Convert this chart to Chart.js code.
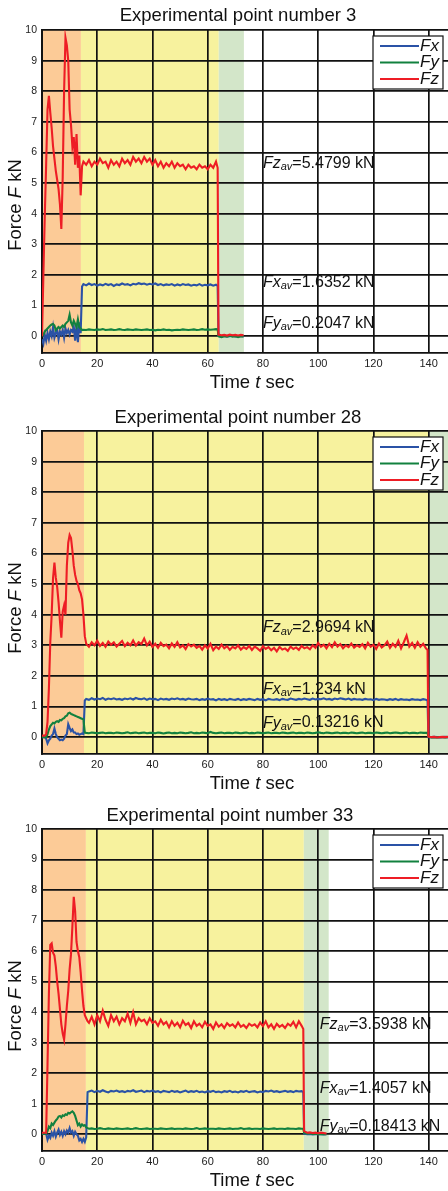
<!DOCTYPE html>
<html>
<head>
<meta charset="utf-8">
<script src="https://cdn.jsdelivr.net/npm/chart.js@4"></script>
<style>
  body { margin: 0; background: #fff; }
  canvas { display: block; }
</style>
</head>
<body>
<canvas id="c1" width="448" height="398"></canvas>
<canvas id="c2" width="448" height="398"></canvas>
<canvas id="c3" width="448" height="395"></canvas>
<script>
// axis ticks
const xTicks = [0, 20, 40, 60, 80, 100, 120, 140];
const yTicks = [0, 1, 2, 3, 4, 5, 6, 7, 8, 9, 10];
const seriesNames = ['Fx', 'Fy', 'Fz'];

// ---- Experimental point number 3 ----
const time1 = [0,0.5,1,1.5,2,2.5,3,3.5,4,4.5,5,5.5,6,6.5,7,7.5,8,8.5,9,9.5,10,10.5,11,11.5,12,12.5,13,13.5,14,
  14.5,15,16,17,18,19,20,21,22,23,24,25,26,27,28,29,30,31,32,33,34,35,36,37,38,39,40,41,42,43,44,45,46,47,48,49,50,
  51,52,53,54,55,56,57,58,59,60,61,62,63,63.6,
  63.9,65,66,67,68,69,70,71,72,73];
const fx1 = [-0.1,-0.25,0.05,-0.15,0.1,-0.1,0.15,0.0,0.3,-0.05,0.1,0.2,-0.1,0.15,0.05,0.2,-0.05,0.25,0.1,0.2,0.05,0.2,0.15,0.3,-0.15,0.35,-0.2,0.45,0.1,
  1.62,1.7,1.66,1.72,1.67,1.7,1.65,1.69,1.66,1.71,
  1.67,1.7,1.64,1.69,1.67,1.72,1.68,1.7,1.66,1.71,
  1.69,1.73,1.7,1.72,1.68,1.71,1.69,1.72,1.67,1.7,
  1.66,1.69,1.67,1.7,1.65,1.69,1.66,1.7,1.67,1.69,
  1.65,1.68,1.66,1.7,1.65,1.68,1.66,1.69,1.65,1.68,1.64,
  0.0,-0.02,0.01,-0.01,0.0,0.02,-0.01,0.0,0.01,-0.01];
const fy1 = [0,0.05,0.15,0.2,0.25,0.3,0.35,0.38,0.4,0.35,0.2,0.25,0.3,0.25,0.3,0.35,0.3,0.4,0.45,0.5,0.7,0.45,0.35,0.5,0.4,0.3,0.55,0.3,0.25,
  0.2,0.21,0.2,0.22,0.21,0.2,0.22,0.21,0.23,0.2,
  0.21,0.22,0.2,0.21,0.23,0.21,0.2,0.22,0.21,0.2,
  0.22,0.21,0.2,0.21,0.22,0.2,0.21,0.19,0.21,0.2,
  0.22,0.2,0.21,0.19,0.2,0.21,0.2,0.22,0.21,0.2,
  0.21,0.22,0.2,0.21,0.23,0.21,0.22,0.21,0.22,0.23,0.22,
  0.0,-0.03,0.0,-0.02,0.01,-0.02,0.0,-0.03,0.0,-0.01];
const fz1 = [0,2.0,3.9,5.6,7.4,7.85,7.3,6.8,6.2,5.8,5.4,5.1,4.8,4.3,3.5,5.2,8.0,9.75,9.5,9.0,7.4,6.9,6.2,6.5,5.6,6.6,5.5,5.9,4.6,
  5.55,5.7,5.6,5.75,5.55,5.7,5.6,5.8,5.65,5.7,
  5.5,5.75,5.6,5.7,5.55,5.8,5.65,5.75,5.6,5.85,
  5.7,5.8,5.65,5.85,5.7,5.8,5.6,5.75,5.55,5.7,
  5.5,5.65,5.55,5.7,5.5,5.65,5.55,5.6,5.45,5.6,
  5.5,5.55,5.45,5.6,5.5,5.55,5.45,5.6,5.5,5.7,5.5,
  0.05,0.03,0.04,0.02,0.05,0.03,0.04,0.02,0.04,0.03];
const phases1 = [0, 14.1, 64.0, 73.1];
const avg1 = ['1.6352', '0.2047', '5.4799'];

// ---- Experimental point number 28 ----
const time2 = [0,0.5,1,1.5,2,2.5,3,3.5,4,4.5,5,5.5,6,6.5,7,7.5,8,8.5,9,9.5,10,10.5,11,11.5,12,12.5,13,13.5,14,14.5,15,
  15.5,16,17,18,19,20,21,22,23,24,25,26,27,28,29,30,31,32,33,34,35,36,37,38,39,40,41,42,43,44,45,
  46,47,48,49,50,51,52,53,54,55,56,57,58,59,60,61,62,63,64,65,66,67,68,69,70,71,72,73,74,75,
  76,77,78,79,80,81,82,83,84,85,86,87,88,89,90,91,92,93,94,95,96,97,98,99,100,101,102,103,104,105,
  106,107,108,109,110,111,112,113,114,115,116,117,118,119,120,121,122,123,124,125,126,127,128,129,130,131,132,133,134,135,
  136,137,138,139,139.6,
  139.9,141,142,143,144,145,146,147];
const fx2 = [0.0,0.0,0.0,-0.05,-0.2,-0.1,-0.05,0.05,0.1,0.28,0.1,0.0,-0.05,-0.1,-0.08,-0.1,-0.05,0.05,0.1,0.42,0.3,0.2,0.25,0.15,0.15,0.1,0.12,0.08,0.1,0.12,0.1,
  1.2,
  1.25,1.22,1.27,1.23,1.26,1.24,1.28,1.22,1.26,1.24,
  1.27,1.23,1.25,1.22,1.26,1.24,1.27,1.23,1.28,1.25,
  1.24,1.27,1.22,1.26,1.24,1.25,1.21,1.26,1.23,1.25,
  1.22,1.26,1.24,1.27,1.23,1.25,1.22,1.26,1.24,1.23,
  1.25,1.21,1.24,1.22,1.26,1.23,1.24,1.2,1.25,1.22,
  1.24,1.21,1.25,1.23,1.22,1.25,1.21,1.24,1.22,1.25,
  1.23,1.21,1.25,1.22,1.24,1.2,1.25,1.23,1.22,1.24,
  1.21,1.25,1.23,1.22,1.26,1.24,1.22,1.25,1.23,1.26,
  1.24,1.22,1.26,1.23,1.25,1.24,1.27,1.23,1.25,1.22,
  1.26,1.24,1.27,1.25,1.23,1.26,1.22,1.25,1.23,1.24,
  1.22,1.25,1.23,1.24,1.21,1.25,1.22,1.24,1.23,1.21,
  1.24,1.22,1.25,1.21,1.24,1.22,1.23,1.21,1.24,1.22,
  1.23,1.21,1.24,1.22,1.2,
  0.0,0.0,0.01,0.0,-0.01,0.0,0.01,0.0];
const fy2 = [0,0,0,0.0,0.1,0.25,0.36,0.42,0.47,0.45,0.5,0.52,0.5,0.56,0.55,0.6,0.62,0.68,0.7,0.78,0.8,0.76,0.74,0.72,0.7,0.68,0.66,0.64,0.62,0.6,0.58,
  0.15,
  0.14,0.13,0.15,0.14,0.13,0.14,0.15,0.13,0.14,0.14,
  0.13,0.15,0.14,0.13,0.14,0.16,0.13,0.14,0.15,0.13,
  0.14,0.15,0.13,0.14,0.14,0.13,0.15,0.14,0.12,0.14,
  0.15,0.13,0.14,0.13,0.15,0.14,0.13,0.14,0.16,0.13,
  0.14,0.13,0.15,0.14,0.13,0.17,0.14,0.13,0.14,0.15,
  0.13,0.14,0.14,0.13,0.15,0.14,0.13,0.14,0.15,0.13,
  0.14,0.13,0.15,0.14,0.13,0.14,0.15,0.13,0.14,0.14,
  0.13,0.15,0.14,0.13,0.14,0.15,0.13,0.14,0.14,0.13,
  0.15,0.14,0.13,0.14,0.16,0.14,0.13,0.15,0.14,0.13,
  0.14,0.15,0.13,0.14,0.14,0.13,0.15,0.14,0.13,0.14,
  0.15,0.13,0.14,0.14,0.13,0.15,0.14,0.13,0.14,0.15,
  0.13,0.14,0.15,0.14,0.13,0.14,0.15,0.13,0.14,0.14,
  0.13,0.15,0.14,0.14,0.14,
  0.01,-0.01,0.0,-0.01,0.0,0.0,-0.01,0.0];
const fz2 = [0.05,0.05,0.05,0.1,0.5,1.6,3.1,4.0,5.2,5.7,5.2,4.9,4.4,3.8,3.25,4.1,4.3,4.0,5.6,6.35,6.6,6.5,6.1,5.6,5.3,5.1,5.0,4.8,4.7,4.5,4.0,
  3.3,
  3.05,2.95,3.1,3.0,3.15,2.98,3.08,2.95,3.12,3.02,
  3.1,2.96,3.05,3.14,2.97,3.08,3.0,3.16,2.99,3.1,
  3.04,3.22,3.0,3.12,2.95,3.05,2.92,3.08,2.97,3.02,
  2.9,3.06,2.95,3.1,2.93,3.0,2.88,3.04,2.96,3.02,
  2.92,2.98,2.86,3.0,2.9,3.05,2.84,2.96,2.88,3.02,
  2.9,2.97,2.85,2.95,2.9,3.0,2.86,2.94,2.88,2.98,
  2.85,2.96,2.9,2.82,2.97,2.88,2.94,2.84,2.92,2.8,
  2.95,2.86,2.9,2.82,2.96,2.88,2.93,2.85,2.98,2.9,
  2.94,2.87,3.0,2.92,3.08,2.95,3.02,2.9,3.05,2.94,
  3.1,2.96,3.04,2.9,3.0,2.94,3.06,2.92,3.0,2.95,
  3.04,2.9,3.08,2.95,3.02,2.88,3.06,2.93,3.0,3.12,
  2.92,3.05,2.95,3.15,2.9,3.1,3.32,2.96,3.08,2.92,
  3.1,2.95,3.05,2.9,2.85,
  0.02,0.0,0.01,-0.01,0.0,0.01,0.0,0.01];
const phases2 = [0, 15.2, 140.0, 147];
const avg2 = ['1.234', '0.13216', '2.9694'];

// ---- Experimental point number 33 ----
const time3 = [0,0.5,1,1.5,2,2.5,3,3.5,4,4.5,5,5.5,6,6.5,7,7.5,8,8.5,9,9.5,10,10.5,11,11.5,12,12.5,13,13.5,14,14.5,15,15.5,16,
  16.5,17,18,19,20,21,22,23,24,25,26,27,28,29,30,31,32,33,34,35,36,37,38,39,40,41,42,43,44,45,46,
  47,48,49,50,51,52,53,54,55,56,57,58,59,60,61,62,63,64,65,66,67,68,69,70,71,72,73,74,75,76,
  77,78,79,80,81,82,83,84,85,86,87,88,89,90,91,92,93,94,94.6,
  94.9,96,97,98,99,100,101,102,103];
const fx3 = [0.02,0.02,0.02,0.02,-0.18,-0.05,-0.12,0.05,-0.05,0.1,-0.08,0.05,0.15,-0.02,0.08,-0.05,0.1,0.0,0.12,0.05,0.2,0.05,0.1,-0.05,0.08,0.0,-0.05,-0.2,-0.15,-0.25,-0.15,-0.25,-0.1,
  1.38,
  1.4,1.43,1.38,1.42,1.39,1.44,1.4,1.37,1.42,1.4,
  1.43,1.39,1.41,1.38,1.42,1.4,1.44,1.39,1.41,1.43,
  1.38,1.42,1.4,1.43,1.39,1.41,1.37,1.42,1.4,1.38,
  1.42,1.39,1.41,1.37,1.4,1.43,1.38,1.41,1.39,1.42,
  1.38,1.4,1.37,1.41,1.39,1.42,1.38,1.4,1.37,1.41,
  1.39,1.42,1.38,1.4,1.37,1.41,1.39,1.42,1.38,1.4,
  1.41,1.37,1.4,1.38,1.42,1.4,1.43,1.39,1.41,1.38,
  1.4,1.42,1.39,1.41,1.38,1.42,1.4,1.41,1.38,
  0.02,0.0,0.01,-0.01,0.0,0.01,0.0,-0.01,0.0];
const fy3 = [0.02,0.02,0.02,0.02,0.1,0.25,0.2,0.35,0.3,0.38,0.45,0.5,0.58,0.6,0.55,0.62,0.6,0.65,0.63,0.7,0.68,0.72,0.75,0.7,0.6,0.45,0.3,0.35,0.25,0.32,0.28,0.3,0.22,
  0.2,
  0.18,0.19,0.17,0.18,0.2,0.18,0.17,0.19,0.18,0.17,
  0.19,0.18,0.17,0.18,0.19,0.17,0.18,0.2,0.18,0.17,
  0.18,0.19,0.17,0.18,0.18,0.17,0.19,0.18,0.17,0.18,
  0.19,0.17,0.18,0.18,0.17,0.19,0.18,0.17,0.18,0.2,
  0.17,0.18,0.19,0.17,0.18,0.18,0.17,0.19,0.18,0.17,
  0.18,0.19,0.17,0.18,0.18,0.2,0.17,0.18,0.19,0.17,
  0.18,0.18,0.17,0.19,0.18,0.17,0.18,0.19,0.17,0.18,
  0.18,0.17,0.19,0.18,0.18,0.17,0.19,0.18,0.18,
  0.05,0.02,0.03,0.01,0.02,0.0,0.01,0.0,0.0];
const fz3 = [0.05,0.05,0.05,0.05,2.3,4.6,6.2,6.25,5.95,5.85,5.5,5.0,4.6,4.1,3.6,3.3,3.1,3.6,4.2,4.7,5.4,5.9,6.8,7.78,7.3,6.3,6.0,5.8,5.3,4.7,4.2,3.9,3.8,
  3.7,
  3.65,3.85,3.6,3.9,3.7,4.05,3.75,3.55,3.9,3.7,
  3.85,3.6,3.8,3.7,3.95,3.65,4.0,3.6,3.8,3.7,
  3.75,3.6,3.8,3.65,3.7,3.55,3.75,3.6,3.68,3.5,
  3.7,3.55,3.65,3.5,3.72,3.58,3.64,3.48,3.7,3.55,
  3.62,3.5,3.68,3.55,3.6,3.45,3.66,3.52,3.6,3.48,
  3.64,3.55,3.6,3.5,3.66,3.52,3.58,3.48,3.62,3.55,
  3.6,3.5,3.66,3.54,3.7,3.5,3.6,3.45,3.62,3.52,
  3.58,3.48,3.62,3.55,3.68,3.5,3.7,3.55,3.45,
  0.1,0.05,0.06,0.04,0.05,0.03,0.05,0.04,0.02];
const phases3 = [0, 15.9, 94.8, 103.8];
const avg3 = ['1.4057', '0.18413', '3.5938'];

const FONT = '"Liberation Sans", Arial, Helvetica, sans-serif';
const lineColors = ['#2A52A6', '#12813F', '#EE1D25'];
const phaseColors = ['#FCCB97', '#F7F29E', '#D3E6C9'];

function textRuns(ctx, x, y, parts) {
  for (const [t, f, dy] of parts) {
    ctx.font = f;
    ctx.fillText(t, x, y + (dy || 0));
    x += ctx.measureText(t).width;
  }
  return x;
}
function runsWidth(ctx, parts) {
  let w = 0;
  for (const [t, f] of parts) { ctx.font = f; w += ctx.measureText(t).width; }
  return w;
}

const decor = {
  id: 'decor',
  beforeDraw(chart, args, o) {
    const {ctx, chartArea: a, scales: {x}} = chart;
    ctx.save();
    for (let i = 0; i < phaseColors.length; i++) {
      const x0 = x.getPixelForValue(o.phases[i]);
      const x1 = x.getPixelForValue(o.phases[i + 1]);
      ctx.fillStyle = phaseColors[i];
      ctx.fillRect(x0, a.top, x1 - x0, a.bottom - a.top);
    }
    ctx.restore();
  },
  afterDraw(chart, args, o) {
    const {ctx, chartArea: a, scales: {x, y}} = chart;
    ctx.save();
    ctx.fillStyle = '#111';
    ctx.textBaseline = 'middle';

    // title
    ctx.textAlign = 'center';
    ctx.font = '18.5px ' + FONT;
    ctx.fillText(o.title, o.titleX, o.titleY);

    // x axis title
    ctx.textAlign = 'left';
    const xt = [['Time ', '18.5px ' + FONT], ['t', 'italic 18.5px ' + FONT], [' sec', '18.5px ' + FONT]];
    textRuns(ctx, 252 - runsWidth(ctx, xt) / 2, a.bottom + 30, xt);

    // y axis title
    const yt = [['Force ', '18.5px ' + FONT], ['F', 'italic 18.5px ' + FONT], [' kN', '18.5px ' + FONT]];
    ctx.save();
    ctx.translate(15.5, o.yTitleY);
    ctx.rotate(-Math.PI / 2);
    textRuns(ctx, -runsWidth(ctx, yt) / 2, 0, yt);
    ctx.restore();

    // averages
    o.notes.forEach((n, i) => {
      const px = x.getPixelForValue(n[0]);
      const py = y.getPixelForValue(n[1]);
      textRuns(ctx, px, py, [
        [seriesNames[i], 'italic 16px ' + FONT],
        ['av', 'italic 11px ' + FONT, 4],
        ['=' + o.avg[i] + ' kN', '16px ' + FONT]
      ]);
    });

    // legend
    const lx = a.right - 75, ly = a.top + 6;
    ctx.fillStyle = '#fff';
    ctx.fillRect(lx, ly, 70, 53);
    ctx.strokeStyle = '#111';
    ctx.lineWidth = 1.2;
    ctx.strokeRect(lx, ly, 70, 53);
    chart.data.datasets.forEach((ds, i) => {
      const yy = ly + 10 + i * 16.5;
      ctx.strokeStyle = ds.borderColor;
      ctx.lineWidth = 2;
      ctx.beginPath();
      ctx.moveTo(lx + 7, yy);
      ctx.lineTo(lx + 46, yy);
      ctx.stroke();
      ctx.fillStyle = '#111';
      ctx.font = 'italic 17px ' + FONT;
      ctx.fillText(ds.label, lx + 47, yy);
    });
    ctx.restore();
  }
};

function makeChart(id, time, fx, fy, fz, phases, avg, cfg) {
  [fx, fy, fz].forEach((s, i) => {
    if (s.length !== time.length) console.warn(id, seriesNames[i], s.length, time.length);
  });
  const pts = s => time.map((t, i) => ({x: t, y: s[i]}));
  const canvas = document.getElementById(id);
  return new Chart(canvas, {
    type: 'line',
    data: {
      datasets: [fx, fy, fz].map((s, i) => ({
        label: seriesNames[i],
        data: pts(s),
        borderColor: lineColors[i],
        borderWidth: 2.1,
        pointRadius: 0,
        tension: 0,
        order: 3 - i
      }))
    },
    options: {
      responsive: false,
      animation: false,
      events: [],
      layout: {padding: {top: cfg.top, right: 0, left: 0, bottom: 0}},
      scales: {
        x: {
          type: 'linear',
          min: 0,
          max: 147,
          afterBuildTicks: s => { s.ticks = xTicks.map(v => ({value: v})); },
          afterFit: s => { s.height = cfg.xAxisH; },
          grid: {color: '#111', lineWidth: 1.7, drawTicks: false},
          border: {display: true, color: '#111', width: 1.8},
          ticks: {color: '#222', font: {family: FONT, size: 11}, padding: 4, maxRotation: 0}
        },
        y: {
          type: 'linear',
          min: -0.55,
          max: 10,
          afterBuildTicks: s => { s.ticks = yTicks.map(v => ({value: v})); },
          afterFit: s => { s.width = 42; },
          grid: {color: '#111', lineWidth: 1.7, drawTicks: false},
          border: {display: true, color: '#111', width: 2},
          ticks: {color: '#222', font: {family: FONT, size: 10.5}, padding: 5}
        }
      },
      plugins: {
        legend: {display: false},
        tooltip: {enabled: false},
        decor: {
          title: cfg.title, titleX: cfg.titleX, titleY: cfg.titleY,
          yTitleY: cfg.yTitleY,
          phases: phases,
          avg: avg,
          notes: cfg.notes
        }
      }
    },
    plugins: [decor]
  });
}

makeChart('c1', time1, fx1, fy1, fz1, phases1, avg1, {
  top: 30, xAxisH: 45, title: 'Experimental point number 3', titleX: 238, titleY: 16, yTitleY: 205,
  notes: [[80, 1.76], [80, 0.42], [80, 5.65]]
});
makeChart('c2', time2, fx2, fy2, fz2, phases2, avg2, {
  top: 33, xAxisH: 42, title: 'Experimental point number 28', titleX: 238, titleY: 20, yTitleY: 210,
  notes: [[80, 1.56], [80, 0.46], [80, 3.58]]
});
makeChart('c3', time3, fx3, fy3, fz3, phases3, avg3, {
  top: 33, xAxisH: 40, title: 'Experimental point number 33', titleX: 230, titleY: 20, yTitleY: 210,
  notes: [[100.6, 1.5], [100.6, 0.26], [100.6, 3.6]]
});
</script>
</body>
</html>
